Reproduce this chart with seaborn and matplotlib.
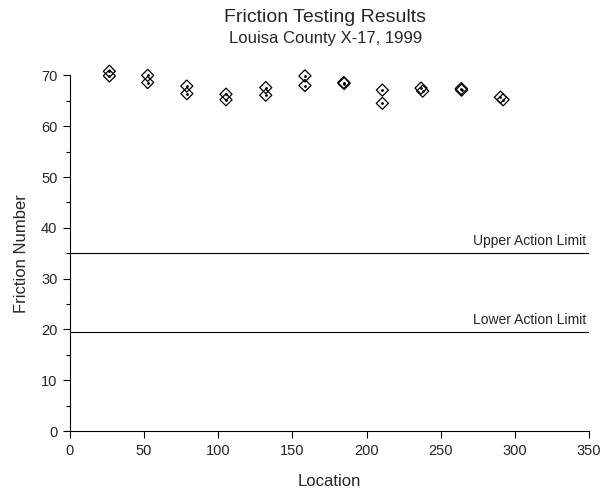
import pandas as pd
import seaborn as sns
import matplotlib.pyplot as plt
from matplotlib.ticker import MultipleLocator

# values
location = [26.6, 26.6, 52.4, 52.4, 78.8, 78.8, 105.2, 105.2, 132, 132, 158.4, 158.4,
            184.6, 184.8, 210.6, 210.6, 236.7, 237.8, 263.8, 264, 290.2, 292]
friction = [70.8, 69.9, 70.0, 68.6, 67.9, 66.4, 66.3, 65.2, 67.6, 66.1, 69.9, 68.0,
            68.6, 68.4, 67.1, 64.5, 67.5, 66.9, 67.4, 67.1, 65.7, 65.2]
limit_names = ["Upper Action Limit", "Lower Action Limit"]
limit_values = [35.0, 19.4]

df = pd.DataFrame({"Location": location, "Friction Number": friction})

sns.set_style("white")
plt.rcParams["font.family"] = ["Liberation Sans", "DejaVu Sans"]

fig = plt.figure(figsize=(6.08, 4.96), dpi=100)
ax = fig.add_axes([0.115, 0.131, 0.854, 0.717])

# open diamonds with a small dot in the middle
sns.scatterplot(data=df, x="Location", y="Friction Number", marker="D", s=38,
                facecolor="none", edgecolor="black", linewidth=0.9, ax=ax,
                zorder=3, clip_on=False)
sns.scatterplot(data=df, x="Location", y="Friction Number", marker="o", s=4,
                color="black", linewidth=0, ax=ax, zorder=4, clip_on=False)

# action limit lines
for name, val in zip(limit_names, limit_values):
    ax.axhline(val, color="black", linewidth=0.8)
    ax.text(348, val + 1.0, name, ha="right", va="bottom", fontsize=10)

ax.set_xlim(0, 350)
ax.set_ylim(0, 70)
ax.xaxis.set_major_locator(MultipleLocator(50))
ax.yaxis.set_major_locator(MultipleLocator(10))
ax.yaxis.set_minor_locator(MultipleLocator(5))

for side in ["top", "right"]:
    ax.spines[side].set_visible(False)
for side in ["left", "bottom"]:
    ax.spines[side].set_color("black")
    ax.spines[side].set_linewidth(0.8)

ax.tick_params(axis="both", which="major", direction="out", length=5, width=0.8,
               labelsize=10.5, color="black", left=True, bottom=True, pad=4)
ax.tick_params(axis="y", which="minor", direction="out", length=3, width=0.8,
               color="black", left=True)

ax.set_xlabel("Location", fontsize=12, labelpad=12)
ax.set_ylabel("Friction Number", fontsize=12, labelpad=9)

fig.text(0.535, 0.965, "Friction Testing Results", ha="center", va="center", fontsize=14)
fig.text(0.535, 0.922, "Louisa County X-17, 1999", ha="center", va="center", fontsize=12)

fig.savefig("out.png", dpi=100)
